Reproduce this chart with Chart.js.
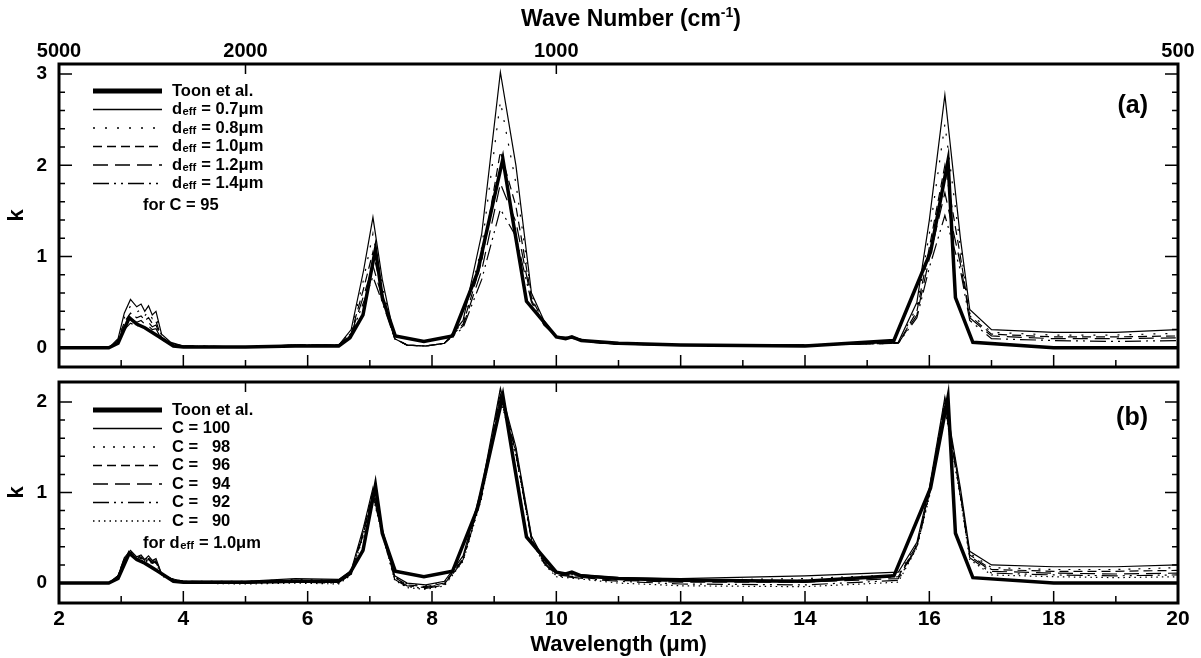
<!DOCTYPE html>
<html>
<head>
<meta charset="utf-8">
<script src="https://cdn.jsdelivr.net/npm/chart.js@4.4.1/dist/chart.umd.min.js"></script>
<style>
body { margin: 0; background: #fff; }
#wrap { position: relative; width: 1201px; height: 658px; font-family: 'Liberation Sans', Arial, sans-serif; }
canvas { position: absolute; left: 0; }
#topTitle { position: absolute; left: 0; top: 7px; width: 1262px; text-align: center; font-weight: bold; font-size: 23px; line-height: 1; }
#topTitle sup { font-size: 14px; vertical-align: 9px; line-height: 0; }
</style>
</head>
<body>
<div id="wrap">
  <canvas id="chartA" width="1201" height="370" style="top:0"></canvas>
  <canvas id="chartB" width="1201" height="288" style="top:370px"></canvas>
  <div id="topTitle">Wave Number (cm<sup>-1</sup>)</div>
</div>
<script>
// Toon et al. reference spectrum (wavelength in um, imaginary index k)
const wlToon = [2.0, 2.8, 2.95, 3.13, 3.25, 3.38, 3.59, 3.84, 4.0, 5.0, 5.8, 6.5, 6.68, 6.89, 7.09, 7.2, 7.41, 7.87, 8.33, 8.73, 9.14, 9.3, 9.52, 10.0, 10.15, 10.25, 10.4, 11, 12, 14, 15.43, 16.02, 16.3, 16.42, 16.7, 18, 20];
const kToon = [0, 0, 0.05, 0.33, 0.26, 0.22, 0.13, 0.02, 0.01, 0.01, 0.02, 0.02, 0.11, 0.36, 1.08, 0.55, 0.13, 0.07, 0.13, 0.82, 2.07, 1.4, 0.51, 0.12, 0.1, 0.12, 0.08, 0.05, 0.03, 0.02, 0.08, 1.05, 2.05, 0.55, 0.06, 0, 0];

// retrieved k on the model wavelength grid
const wl = [2.0, 2.8, 2.95, 3.05, 3.15, 3.25, 3.32, 3.38, 3.44, 3.5, 3.56, 3.65, 3.8, 4.0, 5.0, 5.8, 6.5, 6.7, 6.9, 7.05, 7.2, 7.4, 7.6, 7.9, 8.2, 8.5, 8.8, 9.1, 9.35, 9.6, 9.8, 10.0, 10.3, 10.6, 11, 12, 14, 15.5, 15.8, 16.0, 16.25, 16.5, 16.65, 17.0, 18, 19, 20];

// panel (a): C = 95, varying deff
const k07 = [0, 0, 0.1, 0.38, 0.53, 0.45, 0.48, 0.40, 0.46, 0.36, 0.40, 0.15, 0.06, 0.02, 0.01, 0.03, 0.03, 0.2, 0.85, 1.43, 0.75, 0.1, 0.03, 0.02, 0.05, 0.3, 1.25, 3.02, 2.0, 0.6, 0.3, 0.12, 0.11, 0.06, 0.04, 0.03, 0.03, 0.06, 0.5, 1.4, 2.77, 1.2, 0.42, 0.2, 0.17, 0.17, 0.2];
const k08 = [0, 0, 0.09, 0.33, 0.46, 0.39, 0.42, 0.35, 0.40, 0.32, 0.35, 0.13, 0.05, 0.02, 0.01, 0.03, 0.03, 0.18, 0.75, 1.25, 0.68, 0.1, 0.03, 0.02, 0.05, 0.28, 1.1, 2.7, 1.8, 0.58, 0.29, 0.12, 0.11, 0.06, 0.04, 0.03, 0.03, 0.05, 0.45, 1.25, 2.45, 1.1, 0.38, 0.17, 0.14, 0.14, 0.16];
const k10 = [0, 0, 0.08, 0.28, 0.38, 0.33, 0.35, 0.30, 0.33, 0.27, 0.29, 0.11, 0.05, 0.02, 0.01, 0.03, 0.03, 0.16, 0.65, 1.05, 0.6, 0.1, 0.03, 0.02, 0.05, 0.26, 0.95, 2.15, 1.55, 0.55, 0.27, 0.12, 0.11, 0.06, 0.04, 0.03, 0.03, 0.05, 0.4, 1.1, 2.0, 1.0, 0.35, 0.15, 0.12, 0.12, 0.13];
const k12 = [0, 0, 0.07, 0.24, 0.32, 0.28, 0.30, 0.26, 0.28, 0.23, 0.25, 0.1, 0.05, 0.02, 0.01, 0.03, 0.03, 0.15, 0.57, 0.9, 0.55, 0.1, 0.03, 0.02, 0.05, 0.24, 0.85, 1.8, 1.38, 0.52, 0.26, 0.12, 0.1, 0.06, 0.04, 0.03, 0.03, 0.05, 0.36, 0.98, 1.7, 0.92, 0.33, 0.13, 0.1, 0.1, 0.11];
const k14 = [0, 0, 0.06, 0.2, 0.27, 0.24, 0.25, 0.22, 0.24, 0.2, 0.21, 0.09, 0.04, 0.02, 0.01, 0.03, 0.03, 0.14, 0.5, 0.78, 0.5, 0.1, 0.03, 0.02, 0.05, 0.22, 0.75, 1.52, 1.22, 0.5, 0.25, 0.12, 0.1, 0.06, 0.04, 0.03, 0.03, 0.05, 0.33, 0.88, 1.45, 0.85, 0.3, 0.1, 0.08, 0.07, 0.08];

// panel (b): deff = 1.0um, varying C
const c100 = [0, 0, 0.08, 0.28, 0.36, 0.29, 0.31, 0.26, 0.30, 0.25, 0.27, 0.1, 0.05, 0.02, 0.02, 0.05, 0.04, 0.14, 0.62, 1.05, 0.6, 0.08, 0.0, -0.02, 0.02, 0.3, 1.05, 2.15, 1.5, 0.52, 0.26, 0.12, 0.1, 0.08, 0.06, 0.05, 0.08, 0.12, 0.45, 1.05, 2.05, 1.05, 0.35, 0.2, 0.18, 0.18, 0.2];
const c98 = [0, 0, 0.08, 0.27, 0.35, 0.28, 0.30, 0.25, 0.29, 0.24, 0.26, 0.1, 0.05, 0.02, 0.02, 0.04, 0.03, 0.13, 0.6, 1.03, 0.58, 0.07, -0.01, -0.03, 0.01, 0.28, 1.02, 2.12, 1.48, 0.51, 0.25, 0.11, 0.09, 0.07, 0.05, 0.03, 0.05, 0.09, 0.43, 1.03, 2.03, 1.02, 0.33, 0.17, 0.15, 0.15, 0.17];
const c96 = [0, 0, 0.08, 0.27, 0.34, 0.28, 0.29, 0.25, 0.28, 0.23, 0.25, 0.1, 0.05, 0.02, 0.01, 0.03, 0.02, 0.12, 0.58, 1.01, 0.57, 0.06, -0.02, -0.04, 0.0, 0.27, 1.0, 2.1, 1.46, 0.5, 0.24, 0.1, 0.08, 0.06, 0.04, 0.02, 0.03, 0.07, 0.42, 1.01, 2.0, 1.0, 0.31, 0.15, 0.13, 0.13, 0.14];
const c94 = [0, 0, 0.07, 0.26, 0.33, 0.27, 0.28, 0.24, 0.27, 0.22, 0.24, 0.09, 0.04, 0.01, 0.01, 0.02, 0.01, 0.11, 0.56, 0.99, 0.56, 0.05, -0.03, -0.05, -0.01, 0.26, 0.98, 2.08, 1.44, 0.49, 0.23, 0.09, 0.07, 0.05, 0.03, 0.01, 0.01, 0.05, 0.41, 0.99, 1.98, 0.98, 0.3, 0.13, 0.11, 0.1, 0.11];
const c92 = [0, 0, 0.07, 0.25, 0.32, 0.27, 0.27, 0.24, 0.26, 0.22, 0.23, 0.09, 0.04, 0.01, 0.0, 0.01, 0.0, 0.1, 0.55, 0.97, 0.55, 0.04, -0.04, -0.06, -0.02, 0.25, 0.96, 2.05, 1.42, 0.48, 0.22, 0.08, 0.06, 0.04, 0.02, -0.01, -0.02, 0.03, 0.4, 0.97, 1.96, 0.96, 0.28, 0.11, 0.09, 0.08, 0.09];
const c90 = [0, 0, 0.07, 0.24, 0.31, 0.26, 0.26, 0.23, 0.25, 0.21, 0.22, 0.08, 0.03, 0.0, -0.01, 0.0, -0.01, 0.09, 0.53, 0.95, 0.54, 0.03, -0.05, -0.07, -0.03, 0.24, 0.94, 2.03, 1.4, 0.47, 0.21, 0.07, 0.05, 0.03, 0.0, -0.03, -0.04, 0.01, 0.39, 0.95, 1.93, 0.94, 0.26, 0.09, 0.07, 0.06, 0.07];

const labelsA = ['Toon et al.', 'deff = 0.7\u03bcm', 'deff = 0.8\u03bcm', 'deff = 1.0\u03bcm', 'deff = 1.2\u03bcm', 'deff = 1.4\u03bcm'];
const labelsB = ['Toon et al.', 'C = 100', 'C = \u200798', 'C = \u200796', 'C = \u200794', 'C = \u200792', 'C = \u200790'];

const wlTicks = [2, 4, 6, 8, 10, 12, 14, 16, 18, 20];
const waveNumTicks = [5000, 2000, 1000, 500];
const kTicksA = [0, 1, 2, 3];
const kTicksB = [0, 1, 2];

const FONT = "'Liberation Sans', Arial, sans-serif";
Chart.defaults.font.family = FONT;
Chart.defaults.color = '#000';

function line(label, xs, ys, width, dash) {
  return {
    label: label,
    data: xs.map((x, i) => ({ x: x, y: ys[i] })),
    borderColor: '#000',
    borderWidth: width,
    borderDash: dash,
    pointRadius: 0,
    fill: false,
    tension: 0
  };
}

function richText(ctx, text, x, y, size) {
  ctx.textAlign = 'left';
  const parts = text.split('deff');
  parts.forEach((p, i) => {
    ctx.font = 'bold ' + size + 'px ' + FONT;
    ctx.fillText(p, x, y);
    x += ctx.measureText(p).width;
    if (i < parts.length - 1) {
      ctx.fillText('d', x, y);
      x += ctx.measureText('d').width;
      ctx.font = 'bold ' + (size * 0.68) + 'px ' + FONT;
      ctx.fillText('eff', x + 0.5, y + 2.5);
      x += ctx.measureText('eff').width + 1;
    }
  });
}

// keep the axis boxes at fixed sizes, no label overflow padding
function fixSize(prop, size) {
  return s => {
    s[prop] = size;
    s.paddingTop = 0; s.paddingBottom = 0; s.paddingLeft = 0; s.paddingRight = 0;
  };
}

// frame, inward ticks and the hand-laid legend
const frame = {
  id: 'frame',
  afterDraw(chart, args, o) {
    const { ctx, chartArea: a, scales } = chart;
    const sx = scales.x, sy = scales.y;
    ctx.save();
    ctx.strokeStyle = '#000';
    ctx.fillStyle = '#000';
    ctx.lineWidth = 1.5;
    ctx.beginPath();
    for (let v = 3; v < 20; v++) {
      const px = sx.getPixelForValue(v);
      const len = v % 2 === 0 ? 12 : 7;
      ctx.moveTo(px, a.bottom); ctx.lineTo(px, a.bottom - len);
    }
    [5, 10].forEach(v => {
      const px = sx.getPixelForValue(v);
      ctx.moveTo(px, a.top); ctx.lineTo(px, a.top + 10);
    });
    for (let i = 0; i * 0.2 <= o.kMax + 1e-9; i++) {
      const py = sy.getPixelForValue(i * 0.2);
      const len = i % 5 === 0 ? 13 : 6;
      ctx.moveTo(a.left, py); ctx.lineTo(a.left + len, py);
      ctx.moveTo(a.right, py); ctx.lineTo(a.right - len, py);
    }
    ctx.stroke();
    ctx.lineWidth = 3;
    ctx.strokeRect(a.left, a.top, a.right - a.left, a.bottom - a.top);

    // legend
    ctx.textBaseline = 'middle';
    chart.data.datasets.forEach((ds, i) => {
      const y = o.top + i * o.step;
      ctx.lineWidth = ds.borderWidth > 2 ? 5 : 1.4;
      ctx.setLineDash(ds.borderDash || []);
      ctx.beginPath(); ctx.moveTo(o.x0, y); ctx.lineTo(o.x1, y); ctx.stroke();
      ctx.setLineDash([]);
      richText(ctx, ds.label, o.tx, y, 16.5);
    });
    richText(ctx, o.note, o.noteX, o.top + chart.data.datasets.length * o.step + 3.5, 16.5);
    ctx.font = 'bold 25px ' + FONT;
    ctx.textAlign = 'right';
    ctx.fillText(o.tag, o.tagX, o.tagY);
    ctx.restore();
  }
};

const tickFont = { size: 19, weight: 'bold' };
const titleFont = { size: 22, weight: 'bold' };

const dashes = [[], [], [2, 10], [9, 5], [15, 7], [16, 5, 2, 5, 2, 5], [1.5, 4]];

new Chart(document.getElementById('chartA'), {
  type: 'line',
  data: {
    datasets: [
      line(labelsA[0], wlToon, kToon, 3.5, []),
      line(labelsA[1], wl, k07, 1.2, dashes[1]),
      line(labelsA[2], wl, k08, 1.2, dashes[2]),
      line(labelsA[3], wl, k10, 1.2, dashes[3]),
      line(labelsA[4], wl, k12, 1.2, dashes[4]),
      line(labelsA[5], wl, k14, 1.2, dashes[5])
    ]
  },
  options: {
    responsive: false,
    animation: false,
    layout: { padding: { left: 0, right: 23, top: 0, bottom: 3 } },
    plugins: {
      legend: { display: false },
      tooltip: { enabled: false },
      frame: { kMax: 3, top: 91, step: 18.5, x0: 93, x1: 162, tx: 172, note: 'for C = 95', noteX: 143, tag: '(a)', tagX: 1148, tagY: 106 }
    },
    scales: {
      x: { type: 'linear', min: 2, max: 20, display: false },
      xTop: {
        type: 'linear', position: 'top', min: 2, max: 20,
        afterBuildTicks: s => { s.ticks = waveNumTicks.map(n => ({ value: 10000 / n })); },
        afterFit: fixSize('height', 64),
        grid: { display: false, drawTicks: false },
        border: { display: false },
        ticks: { autoSkip: false, maxRotation: 0, padding: 1, font: { size: 20, weight: 'bold' }, color: '#000', callback: (v, i) => waveNumTicks[i] }
      },
      y: {
        min: -0.21, max: 3.11,
        afterBuildTicks: s => { s.ticks = kTicksA.map(v => ({ value: v })); },
        afterFit: fixSize('width', 59),
        grid: { display: false, drawTicks: false },
        border: { display: false },
        ticks: { padding: 12, font: tickFont, color: '#000' },
        title: { display: true, text: 'k', font: titleFont, color: '#000', padding: { top: 4, bottom: 0 } }
      }
    }
  },
  plugins: [frame]
});

new Chart(document.getElementById('chartB'), {
  type: 'line',
  data: {
    datasets: [
      line(labelsB[0], wlToon, kToon, 3.5, []),
      line(labelsB[1], wl, c100, 1.2, dashes[1]),
      line(labelsB[2], wl, c98, 1.2, [2, 8]),
      line(labelsB[3], wl, c96, 1.2, dashes[3]),
      line(labelsB[4], wl, c94, 1.2, dashes[4]),
      line(labelsB[5], wl, c92, 1.2, dashes[5]),
      line(labelsB[6], wl, c90, 1.2, dashes[6])
    ]
  },
  options: {
    responsive: false,
    animation: false,
    layout: { padding: { left: 0, right: 23, top: 12, bottom: 0 } },
    plugins: {
      legend: { display: false },
      tooltip: { enabled: false },
      frame: { kMax: 2, top: 40, step: 18.5, x0: 93, x1: 162, tx: 172, note: 'for deff = 1.0\u03bcm', noteX: 143, tag: '(b)', tagX: 1148, tagY: 48 }
    },
    scales: {
      x: {
        type: 'linear', min: 2, max: 20,
        afterBuildTicks: s => { s.ticks = wlTicks.map(v => ({ value: v })); },
        afterFit: fixSize('height', 55),
        grid: { display: false, drawTicks: false },
        border: { display: false },
        ticks: { autoSkip: false, maxRotation: 0, padding: 4, font: { size: 21, weight: 'bold' }, color: '#000' },
        title: { display: true, text: 'Wavelength (\u03bcm)', font: titleFont, color: '#000', padding: { top: 0, bottom: 0 } }
      },
      y: {
        min: -0.22, max: 2.22,
        afterBuildTicks: s => { s.ticks = kTicksB.map(v => ({ value: v })); },
        afterFit: fixSize('width', 59),
        grid: { display: false, drawTicks: false },
        border: { display: false },
        ticks: { padding: 12, font: tickFont, color: '#000' },
        title: { display: true, text: 'k', font: titleFont, color: '#000', padding: { top: 4, bottom: 0 } }
      }
    }
  },
  plugins: [frame]
});
</script>
</body>
</html>
